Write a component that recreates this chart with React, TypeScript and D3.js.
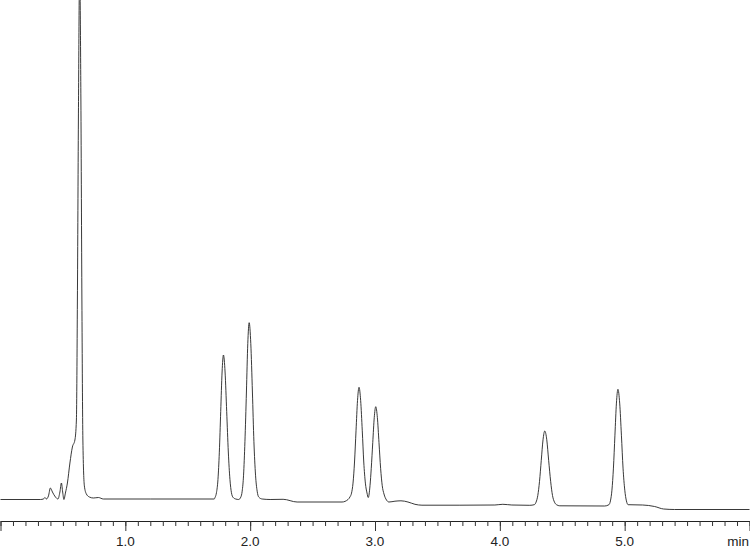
import React, { useEffect, useRef } from 'react';
import * as d3 from 'd3';

// chromatogram trace: [time (min), signal]
const solventFront: [number, number][] = [
  [0, 10.5], [0.32, 10.5], [0.344, 11], [0.356, 12.5], [0.368, 11], [0.384, 14],
  [0.4, 22], [0.416, 18], [0.44, 13], [0.46, 11], [0.476, 18], [0.488, 27],
  [0.498, 18], [0.508, 10.5], [0.52, 17], [0.536, 27], [0.556, 47], [0.576, 63],
  [0.596, 70], [0.608, 90], [0.616, 210], [0.624, 390], [0.634, 540], [0.644, 410],
  [0.652, 210], [0.66, 70], [0.672, 24], [0.688, 16], [0.712, 13], [0.744, 12],
  [0.784, 12.5], [0.824, 11], [1.2, 11], [1.712, 11],
];

const firstPair: [number, number][] = [
  [1.719, 12.6], [1.73, 17.3], [1.742, 30.5], [1.753, 57.8], [1.764, 98.4], [1.775, 138],
  [1.786, 155], [1.799, 138], [1.812, 98.4], [1.825, 58], [1.838, 30.5], [1.85, 17.3],
  [1.863, 12.6], [1.884, 11], [1.908, 10.5],
  [1.925, 12.9], [1.936, 18.8], [1.947, 34.8], [1.958, 68.3], [1.97, 118], [1.981, 166.5],
  [1.992, 187.3], [2.005, 166.5], [2.018, 118], [2.03, 68.3], [2.043, 34.8], [2.056, 18.8],
  [2.069, 12.9], [2.096, 11], [2.16, 10.5], [2.264, 10.7], [2.376, 8], [2.736, 8], [2.784, 10.5],
];

const secondPair: [number, number][] = [
  [2.8, 13.2], [2.812, 16.9], [2.824, 26.9], [2.836, 48], [2.848, 79.2], [2.86, 109.6],
  [2.872, 122.7], [2.885, 109.6], [2.898, 79.2], [2.91, 48], [2.923, 26.9], [2.936, 17],
  [2.946, 12.5], [2.96, 24.3], [2.97, 41.7], [2.982, 67.4], [2.994, 92.5], [3.006, 103.3],
  [3.019, 92.5], [3.032, 67.4], [3.045, 41.7], [3.058, 24.3], [3.072, 16], [3.092, 10],
  [3.112, 8], [3.16, 8.8], [3.208, 9.2], [3.264, 8], [3.32, 5.7], [3.376, 4.8],
  [3.68, 4.8], [3.96, 5], [4.024, 5.7], [4.096, 5], [4.24, 4.7],
];

const latePeaks: [number, number][] = [
  [4.276, 5.3], [4.29, 7.8], [4.304, 14.5], [4.318, 28.7], [4.332, 49.7], [4.346, 70.2],
  [4.36, 79], [4.376, 70.2], [4.391, 49.7], [4.407, 28.7], [4.422, 14.5], [4.438, 7.8],
  [4.454, 5.3], [4.48, 4.2], [4.84, 4],
  [4.874, 5.3], [4.886, 9.1], [4.898, 19.8], [4.91, 41.9], [4.922, 74.8], [4.934, 106.9],
  [4.946, 120.7], [4.96, 106.9], [4.974, 74.8], [4.987, 41.9], [5.001, 19.8], [5.014, 9.1],
  [5.028, 5.3], [5.144, 5], [5.24, 3.5], [5.312, 1], [5.4, 0.5], [6.0, 0.5],
];

const majorTicks = [0, 1, 2, 3, 4, 5, 6];
const labelledTicks = [1, 2, 3, 4, 5];
const minorTicks = d3.range(0, 61).map((i) => i / 10);
const unitLabel = 'min';

const App: React.FC = () => {
  const containerRef = useRef<HTMLDivElement | null>(null);

  useEffect(() => {
    if (!containerRef.current) return;
    containerRef.current.innerHTML = '';

    const width = 750;
    const height = 549;
    const axisY = 521;

    const trace = [...solventFront, ...firstPair, ...secondPair, ...latePeaks];

    const xScale = d3.scaleLinear().domain([0, 6]).range([0.5, 749.5]);
    const yScale = d3.scaleLinear().domain([0, 510]).range([510, 0]);

    const svg = d3
      .select(containerRef.current)
      .append('svg')
      .attr('width', width)
      .attr('height', height)
      .style('position', 'absolute')
      .style('left', '0px')
      .style('top', '0px')
      .style('background', '#fff');

    const line = d3
      .line<[number, number]>()
      .x((d) => xScale(d[0]))
      .y((d) => yScale(d[1]))
      .curve(d3.curveMonotoneX);

    svg
      .append('path')
      .datum(trace)
      .attr('fill', 'none')
      .attr('stroke', '#222')
      .attr('stroke-width', 0.9)
      .attr('d', line);

    // minor ticks every 0.1 min
    svg
      .append('g')
      .attr('transform', `translate(0, ${axisY})`)
      .call(d3.axisBottom(xScale).tickValues(minorTicks).tickSize(5).tickSizeOuter(0).tickFormat(() => ''))
      .call((g) => g.selectAll('line').attr('stroke', '#333'))
      .call((g) => g.select('.domain').attr('stroke', '#222'));

    // major ticks with labels
    svg
      .append('g')
      .attr('transform', `translate(0, ${axisY})`)
      .call(d3.axisBottom(xScale).tickValues(majorTicks).tickSize(10).tickSizeOuter(0).tickFormat(() => ''))
      .call((g) => g.select('.domain').remove())
      .call((g) => g.selectAll('line').attr('stroke', '#333'));

    svg
      .append('g')
      .selectAll('text')
      .data(labelledTicks)
      .join('text')
      .attr('x', (d) => xScale(d))
      .attr('y', 546)
      .attr('text-anchor', 'middle')
      .attr('font-family', '"Liberation Sans", Arial, sans-serif')
      .attr('font-size', 13.5)
      .attr('fill', '#222')
      .text((d) => d3.format('.1f')(d));

    svg
      .append('text')
      .attr('x', 749)
      .attr('y', 546)
      .attr('text-anchor', 'end')
      .attr('font-family', '"Liberation Sans", Arial, sans-serif')
      .attr('font-size', 13.5)
      .attr('fill', '#222')
      .text(unitLabel);
  }, []);

  return <div ref={containerRef} id="chromatogram" />;
};

export default App;
